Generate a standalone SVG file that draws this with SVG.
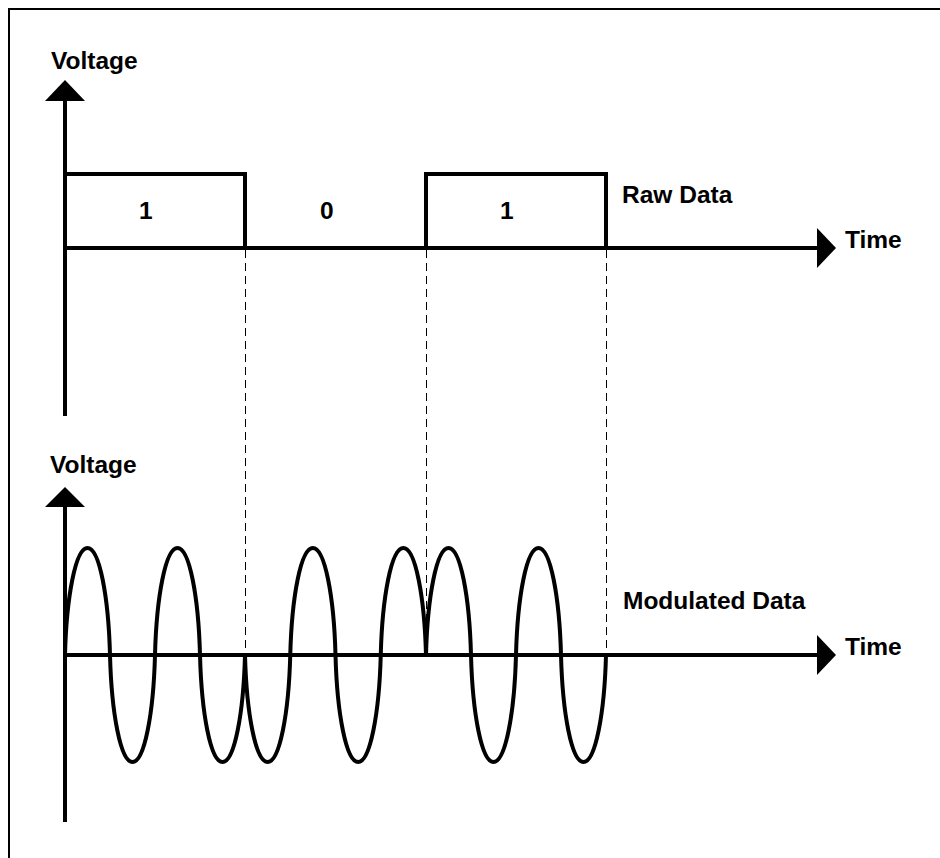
<svg xmlns="http://www.w3.org/2000/svg" width="940" height="858" viewBox="0 0 940 858">
  <style>
    .ax { stroke: #000; stroke-width: 4; fill: none; }
    .wave { stroke: #000; stroke-width: 4; fill: none; stroke-linejoin: miter; }
    .dash { stroke: #000; stroke-width: 1; stroke-dasharray: 8,5; fill: none; }
    .head { fill: #000; stroke: none; }
    .lbl { font-family: "Liberation Sans", Arial, sans-serif; font-weight: bold; font-size: 24.5px; fill: #000; }
  </style>
  <rect x="0" y="0" width="940" height="858" fill="#fff"/>
  <path d="M9,858 V9 H940" stroke="#000" stroke-width="2" fill="none"/>

  <g id="connectors">
    <line class="dash" x1="245.5" y1="250" x2="245.5" y2="655"/>
    <line class="dash" x1="426.5" y1="250" x2="426.5" y2="655"/>
    <line class="dash" x1="606.5" y1="250" x2="606.5" y2="655"/>
  </g>

  <g id="raw-axes">
    <line class="ax" x1="65" y1="100" x2="65" y2="416"/>
    <polygon class="head" points="65,80 45,101 85,101"/>
    <line class="ax" x1="65" y1="248" x2="818" y2="248"/>
    <polygon class="head" points="836,248 817,228 817,268"/>
  </g>

  <g id="raw-data">
    <path class="wave" d="M65,174 H245 V248"/>
    <path class="wave" d="M426,248 V174 H606 V248"/>
  </g>

  <g id="mod-axes">
    <line class="ax" x1="65" y1="506" x2="65" y2="822"/>
    <polygon class="head" points="65,487 45,507 85,507"/>
    <line class="ax" x1="65" y1="655" x2="818" y2="655"/>
    <polygon class="head" points="836,655 817,635 817,675"/>
  </g>

  <g id="modulated-data">
    <path class="wave" d="M65,655
      c1.5,-58 10.5,-107 22.5,-107 c12,0 21,49 22.5,107 c1.5,58 10.5,107 22.5,107 c12,0 21,-49 22.5,-107
      c1.5,-58 10.5,-107 22.5,-107 c12,0 21,49 22.5,107 c1.5,58 10.5,107 22.5,107 c12,0 21,-49 22.5,-107
      c1.5,58 10.55,107 22.625,107 c12.075,0 21.125,-49 22.625,-107 c1.5,-58 10.55,-107 22.625,-107 c12.075,0 21.125,49 22.625,107
      c1.5,58 10.55,107 22.625,107 c12.075,0 21.125,-49 22.625,-107 c1.5,-58 10.55,-107 22.625,-107 c12.075,0 21.125,49 22.625,107
      c1.5,-58 10.5,-107 22.5,-107 c12,0 21,49 22.5,107 c1.5,58 10.5,107 22.5,107 c12,0 21,-49 22.5,-107
      c1.5,-58 10.5,-107 22.5,-107 c12,0 21,49 22.5,107 c1.5,58 10.5,107 22.5,107 c12,0 21,-49 22.5,-107"/>
  </g>

  <g id="labels">
    <text class="lbl" x="51" y="69">Voltage</text>
    <text class="lbl" x="50" y="473">Voltage</text>
    <text class="lbl" x="139" y="219">1</text>
    <text class="lbl" x="320" y="219">0</text>
    <text class="lbl" x="500" y="219">1</text>
    <text class="lbl" x="622" y="203">Raw Data</text>
    <text class="lbl" x="845" y="248">Time</text>
    <text class="lbl" x="623" y="609">Modulated Data</text>
    <text class="lbl" x="845" y="655">Time</text>
  </g>
</svg>
